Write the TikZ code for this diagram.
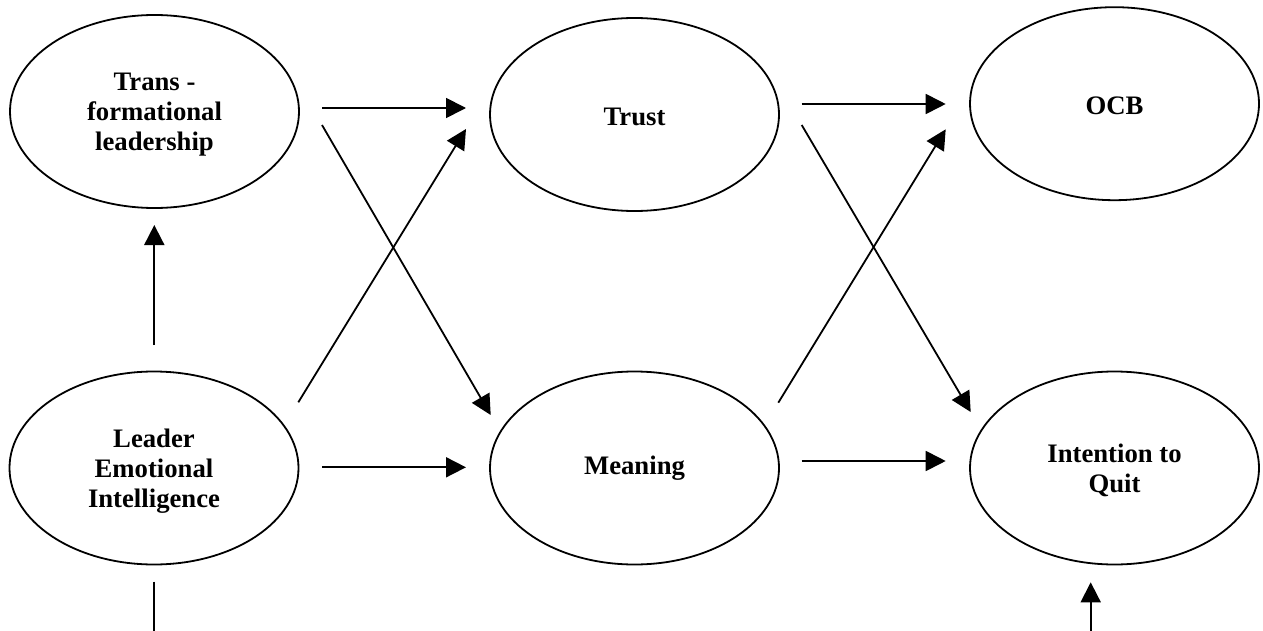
\documentclass[tikz,border=0pt]{standalone}
\usepackage{fontspec}
\setmainfont{Liberation Serif}
\usetikzlibrary{arrows.meta,calc,shapes.geometric}

\tikzset{
  construct/.style={ellipse, draw, line width=1.8pt, minimum width=289pt,
    minimum height=193pt, inner sep=0pt, align=center, text depth=-6pt,
    font=\fontsize{26.7pt}{30.2pt}\selectfont\bfseries},
  oneline/.style={text height=22.4pt, text depth=0pt},
  path arrow/.style={line width=1.8pt, -{Triangle[length=20pt,width=20pt]}},
  path line/.style={line width=1.8pt}
}

\begin{document}
\begin{tikzpicture}[x=1pt,y=-1pt]
  \useasboundingbox (0,0) rectangle (1263,631);

  % constructs
  \node[construct] (trans)  at (154.5,111.5) {Trans -\\formational\\leadership};
  \node[construct] (leader) at (154,468)     {Leader\\Emotional\\Intelligence};
  \node[construct, oneline] (trust) at (634.5,114.5) {Trust};
  \node[construct, text depth=5.7pt] (mean) at (634.5,468) {Meaning};
  \node[construct, oneline] (ocb) at (1114.5,103.7) {OCB};
  \node[construct] (quit)   at (1114.5,468)  {Intention to\\Quit};

  % free ends at the lower edge
  \coordinate (leaderout) at (154,631);
  \coordinate (quitin)    at (1090.7,631);

  % paths
  \draw[path arrow] ($(trans)+(167.5,-3.5)$) -- ($(trust)+(-168.5,-6.5)$);
  \draw[path arrow] ($(trans)+(167.5,13.5)$) -- ($(mean)+(-143.8,-53)$);
  \draw[path arrow] ($(leader)+(144.3,-65.7)$) -- ($(trust)+(-168.5,14.5)$);
  \draw[path arrow] ($(leader)+(168,-0.7)$) -- ($(mean)+(-168.5,-0.7)$);
  \draw[path arrow] ($(trust)+(167.2,-10.5)$) -- ($(ocb)+(-168.8,0.3)$);
  \draw[path arrow] ($(trust)+(167.2,10.5)$) -- ($(quit)+(-143.8,-56)$);
  \draw[path arrow] ($(mean)+(143.8,-65.3)$) -- ($(ocb)+(-168.8,25.6)$);
  \draw[path arrow] ($(mean)+(167.2,-7)$) -- ($(quit)+(-168.8,-7)$);
  \draw[path arrow] ($(leader)+(0.3,-123)$) -- ($(trans)+(-0.2,113.5)$);
  \draw[path line]  ($(leader)+(0,113.7)$) -- (leaderout);
  \draw[path arrow] (quitin) -- ($(quit)+(-23.8,114.3)$);
\end{tikzpicture}
\end{document}
